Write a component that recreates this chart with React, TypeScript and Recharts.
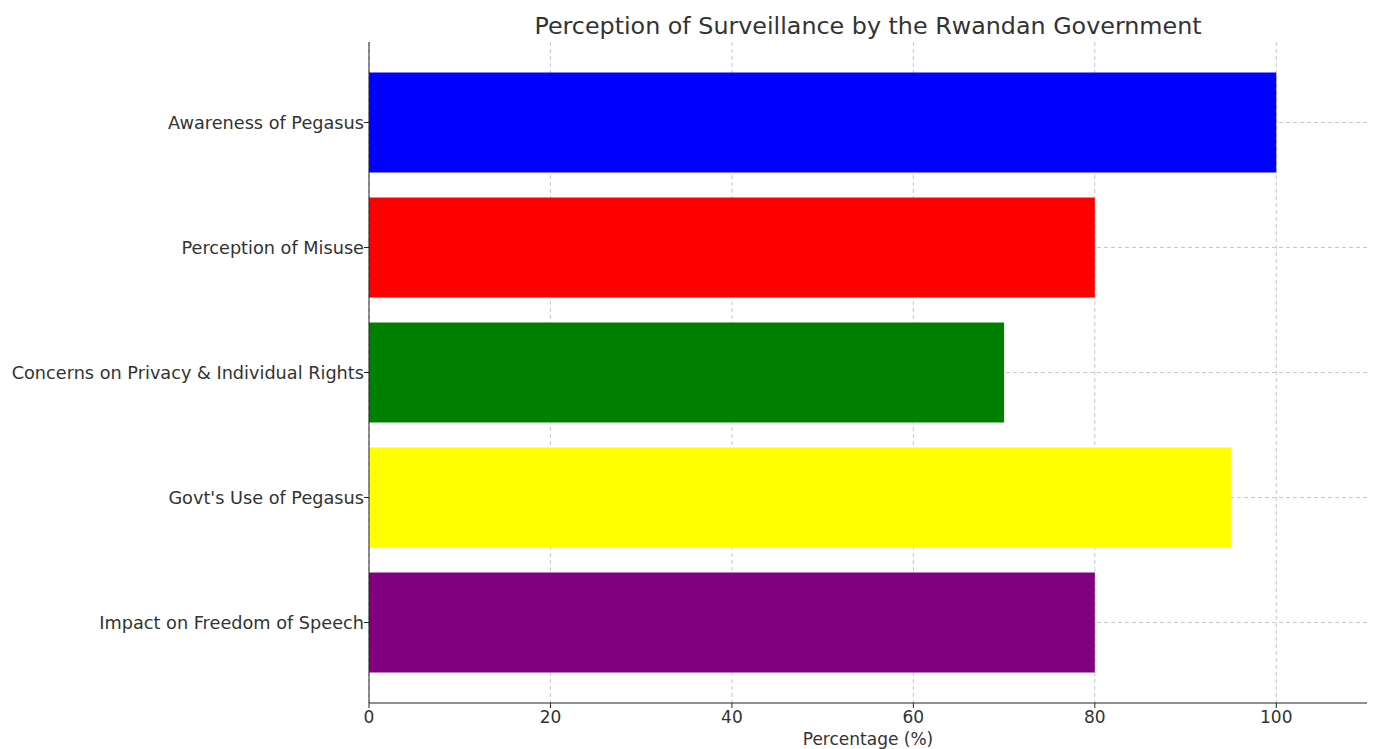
import React from "react";
import {
  BarChart,
  Bar,
  XAxis,
  YAxis,
  CartesianGrid,
  Cell,
} from "recharts";

const categories = [
  "Awareness of Pegasus",
  "Perception of Misuse",
  "Concerns on Privacy & Individual Rights",
  "Govt's Use of Pegasus",
  "Impact on Freedom of Speech",
];
const percentages = [100, 80, 70, 95, 80];
const barColors = ["#0000ff", "#ff0000", "#008000", "#ffff00", "#800080"];
const xTicks = [0, 20, 40, 60, 80, 100];

const data = categories.map((name, i) => ({ name, value: percentages[i] }));

const font = "'DejaVu Sans', sans-serif";

export default function App() {
  return (
    <div
      style={{
        position: "absolute",
        left: 0,
        top: 0,
        width: 1373,
        height: 749,
        background: "#fff",
        fontFamily: font,
        overflow: "hidden",
      }}
    >
      <div
        style={{
          position: "absolute",
          left: 369,
          width: 998,
          top: 11,
          textAlign: "center",
          fontSize: 23.8,
          lineHeight: "30px",
          color: "#333",
        }}
      >
        Perception of Surveillance by the Rwandan Government
      </div>
      <BarChart
        width={1373}
        height={749}
        data={data}
        layout="vertical"
        barCategoryGap="10%"
        margin={{ top: 42, right: 6, bottom: 0, left: 0 }}
      >
        <CartesianGrid stroke="#c8c8c8" strokeDasharray="4 3" syncWithTicks />
        <XAxis
          type="number"
          domain={[0, 110]}
          ticks={xTicks}
          height={46}
          tickSize={5}
          tickMargin={3}
          stroke="#222"
          tick={{ fill: "#333", fontSize: 17, fontFamily: font }}
          label={{
            value: "Percentage (%)",
            position: "insideBottom",
            offset: 4,
            fill: "#333",
            fontSize: 17,
            fontFamily: font,
          }}
        />
        <YAxis
          type="category"
          dataKey="name"
          width={369}
          tickSize={5}
          tickMargin={0}
          padding={{ top: 18, bottom: 18 }}
          axisLine={{ stroke: "#222" }}
          tickLine={{ stroke: "#222" }}
          tick={{ fill: "#333", fontSize: 17.7, fontFamily: font }}
        />
        <Bar dataKey="value" isAnimationActive={false}>
          {data.map((d, i) => (
            <Cell key={d.name} fill={barColors[i]} />
          ))}
        </Bar>
      </BarChart>
    </div>
  );
}
